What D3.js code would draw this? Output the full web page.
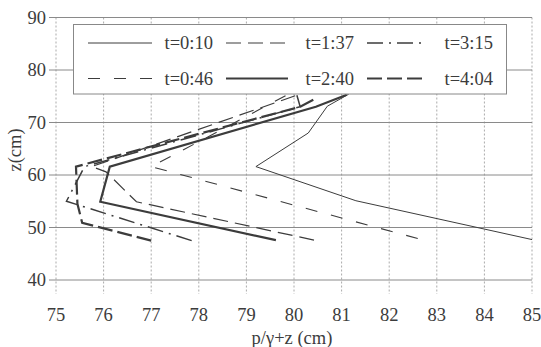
<!DOCTYPE html>
<html>
<head>
<meta charset="utf-8">
<script src="https://cdn.jsdelivr.net/npm/d3@7"></script>
</head>
<body style="margin:0">
<script>
// series labels, in legend order (row by row)
const seriesNames = ["t=0:10", "t=1:37", "t=3:15", "t=0:46", "t=2:40", "t=4:04"]

// [p/γ+z, z] points
const t0010 = [[85.0, 47.7], [81.3, 55.1], [79.2, 61.6], [80.3, 68.0], [80.7, 73.1], [81.15, 75.4]]
const t0046 = [[82.6, 47.9], [77.0, 61.6], [78.2, 67.3], [79.84, 75.2]]
const t0137 = [[80.42, 47.6], [76.69, 54.9], [76.05, 60.6], [75.75, 61.6], [80.06, 75.2]]
const t0240 = [[79.62, 47.6], [75.93, 54.9], [76.13, 61.6], [80.46, 73.0], [81.11, 75.3]]
const t0315 = [[77.85, 47.5], [75.22, 55.0], [75.6, 61.6], [80.13, 73.0], [80.06, 75.2]]
const t0404 = [[77.0, 47.5], [75.55, 50.9], [75.45, 54.5], [75.42, 61.6], [80.13, 73.0], [80.44, 74.5]]

const seriesValues = [t0010, t0137, t0315, t0046, t0240, t0404]

const xTicks = [75, 76, 77, 78, 79, 80, 81, 82, 83, 84, 85]
const yTicks = [40, 50, 60, 70, 80, 90]

// line styles per series
const styles = {
  "t=0:10": { w: 1, dash: null },
  "t=1:37": { w: 1.2, dash: "15,7" },
  "t=3:15": { w: 1.5, dash: "16,6,2,6" },
  "t=0:46": { w: 1.1, dash: "12,14" },
  "t=2:40": { w: 2.2, dash: null },
  "t=4:04": { w: 2.2, dash: "15,5" },
}

const width = 541, height = 347
const ink = "#3c3c3c"
const serif = "'Liberation Serif'"
const fs = 18.5

const svg = d3.select("body").append("svg")
  .attr("width", width)
  .attr("height", height)

const x = d3.scaleLinear().domain([75, 85]).range([56, 532])
const y = d3.scaleLinear().domain([40, 90]).range([280, 17.5])

// vertical dotted grid, running a little below the bottom line
svg.append("g").selectAll("line")
  .data(xTicks)
  .join("line")
    .attr("x1", d => x(d)).attr("x2", d => x(d))
    .attr("y1", y(90)).attr("y2", y(40) + 14)
    .attr("stroke", "#aaa")
    .attr("stroke-width", 1)
    .attr("stroke-dasharray", "2,2")

// horizontal grid lines with small ticks to the left
svg.append("g").selectAll("line")
  .data(yTicks)
  .join("line")
    .attr("x1", x(75) - 7).attr("x2", x(85))
    .attr("y1", d => y(d)).attr("y2", d => y(d))
    .attr("stroke", "#8a8a8a")
    .attr("stroke-width", 1)

// tick labels
svg.append("g").selectAll("text")
  .data(yTicks)
  .join("text")
    .attr("x", 46)
    .attr("y", d => y(d))
    .attr("dy", "0.34em")
    .attr("text-anchor", "end")
    .attr("font-size", fs)
    .style("font-family", serif)
    .attr("fill", ink)
    .text(d => d)

svg.append("g").selectAll("text")
  .data(xTicks)
  .join("text")
    .attr("x", d => x(d))
    .attr("y", 321)
    .attr("text-anchor", "middle")
    .attr("font-size", fs)
    .style("font-family", serif)
    .attr("fill", ink)
    .text(d => d)

svg.append("text")
  .attr("x", 292)
  .attr("y", 344)
  .attr("text-anchor", "middle")
  .attr("font-size", fs)
  .style("font-family", serif)
  .attr("fill", ink)
  .text("p/γ+z (cm)")

svg.append("text")
  .attr("transform", "translate(21,150) rotate(-90)")
  .attr("text-anchor", "middle")
  .attr("font-size", fs)
  .style("font-family", serif)
  .attr("fill", ink)
  .text("z(cm)")

// series lines
const line = d3.line()
  .x(d => x(d[0]))
  .y(d => y(d[1]))

svg.append("g").selectAll("path")
  .data(seriesNames.map((name, i) => ({ name: name, values: seriesValues[i] })))
  .join("path")
    .attr("d", d => line(d.values))
    .attr("fill", "none")
    .attr("stroke", ink)
    .attr("stroke-linejoin", "miter")
    .attr("stroke-width", d => styles[d.name].w)
    .attr("stroke-dasharray", d => styles[d.name].dash)

/* ------- LEGEND -------*/
const legend = svg.append("g")

legend.append("rect")
  .attr("x", 73.5).attr("y", 24.5)
  .attr("width", 433).attr("height", 69.5)
  .attr("fill", "#fff")
  .attr("stroke", "#888")
  .attr("stroke-width", 1)

const colSample = [[88, 152], [226, 288], [367, 424]]
const colLabelEnd = [213, 354, 493]
const rowY = [43, 78.5]

const entries = legend.selectAll("g.entry")
  .data(seriesNames)
  .join("g")
    .attr("class", "entry")

entries.append("line")
  .attr("x1", (d, i) => colSample[i % 3][0])
  .attr("x2", (d, i) => colSample[i % 3][1])
  .attr("y1", (d, i) => rowY[Math.floor(i / 3)])
  .attr("y2", (d, i) => rowY[Math.floor(i / 3)])
  .attr("stroke", ink)
  .attr("stroke-width", d => styles[d].w)
  .attr("stroke-dasharray", d => styles[d].dash)

entries.append("text")
  .attr("x", (d, i) => colLabelEnd[i % 3])
  .attr("y", (d, i) => rowY[Math.floor(i / 3)])
  .attr("dy", "0.34em")
  .attr("text-anchor", "end")
  .attr("font-size", fs)
  .style("font-family", serif)
  .attr("fill", ink)
  .text(d => d)
</script>
</body>
</html>
